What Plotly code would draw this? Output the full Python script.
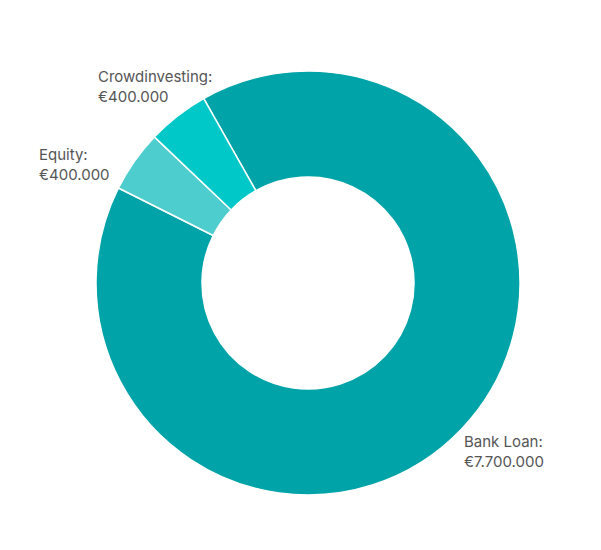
import math
import plotly.graph_objects as go

categories = ["Bank Loan", "Equity", "Crowdinvesting"]
values = [7700000, 400000, 400000]
value_labels = ["€7.700.000", "€400.000", "€400.000"]
colors = ["#00A3A7", "#4ECDCF", "#00C8C8"]

W, H = 601, 550
body = 8  # default page margin of the html body
cx, cy, R = 308 - body, 283 - body, 212
rotation = -29.5

fig = go.Figure(go.Pie(
    labels=categories,
    values=values,
    sort=False,
    direction="clockwise",
    rotation=rotation,
    hole=0.5,
    textinfo="none",
    hoverinfo="label+value",
    marker=dict(colors=colors, line=dict(color="#ffffff", width=1.5)),
    domain=dict(x=[(cx - R) / W, (cx + R) / W], y=[1 - (cy + R) / H, 1 - (cy - R) / H]),
    showlegend=False,
))

# label placement computed from slice mid-angles
label_radius = [1.21, 1.23, 1.17]
label_nudge = [(10, -8), (-20, 31), (0, -1)]
total = sum(values)
start = rotation
for cat, v, vl, k, (nx, ny) in zip(categories, values, value_labels, label_radius, label_nudge):
    span = v / total * 360
    mid = math.radians(start + span / 2)
    start += span
    px = cx + k * R * math.sin(mid) + nx
    py = cy - k * R * math.cos(mid) + ny
    fig.add_annotation(
        x=px / W, y=1 - py / H, xref="paper", yref="paper",
        text=f"{cat}:<br>{vl}", showarrow=False,
        xanchor="center", yanchor="middle", align="left",
        font=dict(family="Inter, Roboto, sans-serif", size=15, color="#555555"),
    )

fig.update_layout(
    width=W, height=H,
    margin=dict(l=0, r=0, t=0, b=0),
    paper_bgcolor="#ffffff",
    plot_bgcolor="#ffffff",
)
fig.write_html("out.html")
